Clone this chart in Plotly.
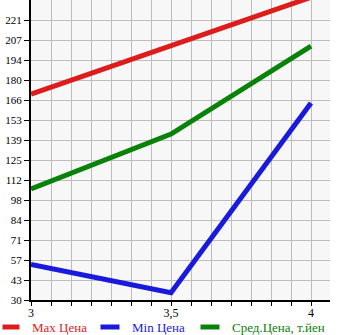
import plotly.graph_objects as go

x_vals = [3, 3.5, 4]
x_tick_vals = [3, 3.5, 4]
x_tick_text = ["3", "3,5", "4"]

max_price = [170.5, 203.5, 236.5]
min_price = [54.3, 35.0, 164.4]
avg_price = [105.7, 143.2, 203.2]

y_tick_text = ["30", "43", "57", "71", "84", "98", "112", "125", "139", "153",
               "166", "180", "194", "207", "221"]

series_names = ["Max Цена", "Min Цена", "Сред.Цена, т.йен"]
series_colors = ["#dd1c1c", "#1a1adc", "#0a820a"]

Y_MIN = 30.0
Y_STEP = (221.0 - 30.0) / 14
y_tick_vals = [Y_MIN + Y_STEP * i for i in range(15)]
Y_MAX = Y_MIN + Y_STEP * 15

W, H = 345, 335
ML, MR, MT, MB = 31, 15, 0, 35
PW, PH = W - ML - MR, H - MT - MB

fig = go.Figure()
for name, col, ys in zip(series_names, series_colors, [max_price, min_price, avg_price]):
    fig.add_trace(go.Scatter(x=x_vals, y=ys, mode="lines", name=name,
                             line=dict(color=col, width=5), showlegend=False,
                             cliponaxis=True))

# x minor grid every 1/14
x_grid = [3 + i / 14 for i in range(0, 16)]

fig.update_layout(
    width=W, height=H,
    margin=dict(l=ML, r=MR, t=MT, b=MB),
    paper_bgcolor="white",
    plot_bgcolor="#f7f7f7",
    font=dict(family="Liberation Serif", size=12, color="black"),
)
fig.update_xaxes(
    range=[3, 3 + PW / 280.0],
    tickvals=x_tick_vals, ticktext=x_tick_text,
    showgrid=False, zeroline=False,
    showline=True, linecolor="black", linewidth=2,
    ticks="outside", ticklen=1, tickcolor="black", tickwidth=1,
    ticklabelstandoff=0,
    minor=dict(tickvals=x_grid, showgrid=True, gridcolor="#bdbdbd", gridwidth=1,
               ticks="outside", ticklen=4, tickcolor="black"),
    tickfont=dict(size=12),
)
fig.update_yaxes(
    range=[Y_MIN, Y_MAX],
    tickvals=y_tick_vals, ticktext=y_tick_text,
    showgrid=True, gridcolor="#bdbdbd", gridwidth=1, zeroline=False,
    showline=True, linecolor="black", linewidth=2,
    ticks="outside", ticklen=5, tickcolor="black", tickwidth=1,
    tickfont=dict(size=11),
)

def px2paper_x(px):
    return (px - ML) / PW

def px2paper_y(py):
    return (H - MB - py) / PH

legend_y = 327
legend_items = [(0, 22, 30), (98, 122, 130), (198, 222, 230)]
for (x0, x1, xt), name, col in zip(legend_items, series_names, series_colors):
    fig.add_shape(type="line", xref="paper", yref="paper",
                  x0=px2paper_x(x0 + 2.5), x1=px2paper_x(x1 - 2.5),
                  y0=px2paper_y(legend_y), y1=px2paper_y(legend_y),
                  line=dict(color=col, width=5))
    fig.add_annotation(text=name, xref="paper", yref="paper",
                       x=px2paper_x(xt), y=px2paper_y(legend_y),
                       xanchor="left", yanchor="middle", showarrow=False,
                       font=dict(color=col, size=13, family="Liberation Serif"))

fig.write_html("out.html")
